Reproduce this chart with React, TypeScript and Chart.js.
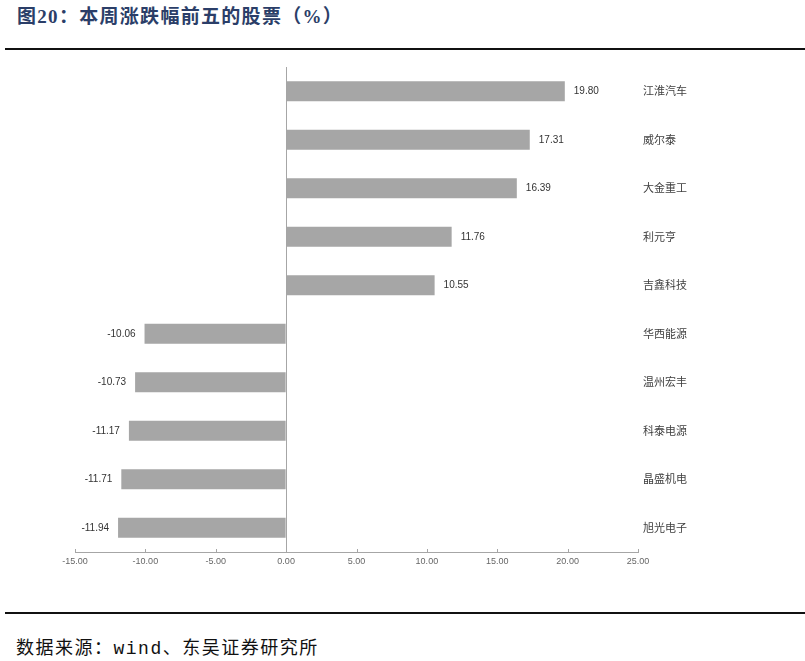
import React, { useEffect, useRef } from "react";
import { Chart, registerables } from "chart.js";

Chart.register(...registerables);

const categories = ["江淮汽车", "威尔泰", "大金重工", "利元亨", "吉鑫科技", "华西能源", "温州宏丰", "科泰电源", "晶盛机电", "旭光电子"];
const changes = [19.8, 17.31, 16.39, 11.76, 10.55, -10.06, -10.73, -11.17, -11.71, -11.94];
const xMin = -15;
const xMax = 25;
const xStep = 5;

const valueLabels = {
  id: "valueLabels",
  afterDatasetsDraw(chart: any) {
    const ctx = chart.ctx;
    const meta = chart.getDatasetMeta(0);
    ctx.save();
    ctx.font = "10px 'Liberation Sans', Arial, sans-serif";
    ctx.fillStyle = "#333333";
    ctx.textBaseline = "middle";
    meta.data.forEach((bar: any, i: number) => {
      const v = changes[i];
      const txt = v.toFixed(2);
      if (v >= 0) {
        ctx.textAlign = "left";
        ctx.fillText(txt, bar.x + 9, bar.y);
      } else {
        ctx.textAlign = "right";
        ctx.fillText(txt, bar.x - 9, bar.y);
      }
    });
    ctx.restore();
  },
};

const innerTicks = {
  id: "innerTicks",
  afterDraw(chart: any) {
    const ctx = chart.ctx;
    const xs = chart.scales.x;
    const bottom = chart.chartArea.bottom;
    ctx.save();
    ctx.strokeStyle = "#a6a6a6";
    ctx.lineWidth = 1;
    xs.ticks.forEach((t: any) => {
      const px = Math.round(xs.getPixelForValue(t.value)) + 0.5;
      ctx.beginPath();
      ctx.moveTo(px, bottom);
      ctx.lineTo(px, bottom - 3);
      ctx.stroke();
    });
    ctx.restore();
  },
};

function BarChart() {
  const ref = useRef<HTMLCanvasElement>(null);
  useEffect(() => {
    if (!ref.current) return;
    const chart = new Chart(ref.current, {
      type: "bar",
      data: {
        labels: categories,
        datasets: [
          {
            data: changes,
            backgroundColor: "#a6a6a6",
            borderWidth: 0,
            categoryPercentage: 1,
            barPercentage: 0.41,
          },
        ],
      },
      options: {
        indexAxis: "y",
        animation: false,
        responsive: false,
        maintainAspectRatio: false,
        layout: { padding: { left: 75, top: 67, right: 0, bottom: 28 } },
        plugins: { legend: { display: false }, tooltip: { enabled: false } },
        scales: {
          x: {
            type: "linear",
            min: xMin,
            max: xMax,
            ticks: {
              stepSize: xStep,
              padding: 4,
              color: "#666666",
              font: { size: 9, family: "'Liberation Sans', Arial, sans-serif" },
              callback: (v: any) => Number(v).toFixed(2),
            },
            grid: {
              drawTicks: false,
              color: (c: any) => (c.tick && c.tick.value === 0 ? "#a6a6a6" : "rgba(0,0,0,0)"),
              lineWidth: 1,
            },
            border: { display: true, color: "#a6a6a6", width: 1 },
            afterFit: (s: any) => {
              s.height = 20;
            },
          },
          y: {
            position: "right",
            ticks: {
              padding: 5,
              crossAlign: "near",
              color: "#404040",
              font: { size: 11, family: "'Noto Sans CJK SC', sans-serif" },
            },
            grid: { display: false, drawTicks: false },
            border: { display: false },
            afterFit: (s: any) => {
              s.width = 167;
            },
          },
        },
      },
      plugins: [valueLabels, innerTicks],
    });
    return () => chart.destroy();
  }, []);
  return <canvas ref={ref} width={805} height={600} style={{ position: "absolute", left: 0, top: 0, width: 805, height: 600 }} />;
}

export default function App() {
  return (
    <div style={{ position: "absolute", left: 0, top: 0, width: 805, height: 661, background: "#fff", overflow: "hidden" }}>
      <div
        style={{
          position: "absolute",
          left: 17,
          top: 4,
          fontFamily: "'Liberation Serif', 'Noto Sans CJK SC', serif",
          fontWeight: "bold",
          fontSize: 19,
          letterSpacing: "1.3px",
          lineHeight: "26px",
          color: "#2b3e68",
          whiteSpace: "nowrap",
        }}
      >
        图20：本周涨跌幅前五的股票（%）
      </div>
      <div style={{ position: "absolute", left: 5, top: 48, width: 800, height: 2, background: "#111" }} />
      <BarChart />
      <div style={{ position: "absolute", left: 5, top: 612, width: 800, height: 2, background: "#111" }} />
      <div
        style={{
          position: "absolute",
          left: 16,
          top: 633,
          fontFamily: "'Noto Sans CJK SC', 'DejaVu Serif', serif",
          fontSize: 18,
          letterSpacing: "1.5px",
          lineHeight: "26px",
          color: "#111",
          whiteSpace: "nowrap",
        }}
      >
        数据来源：<span style={{ fontFamily: "'Liberation Mono', monospace" }}>wind</span>、东吴证券研究所
      </div>
    </div>
  );
}
